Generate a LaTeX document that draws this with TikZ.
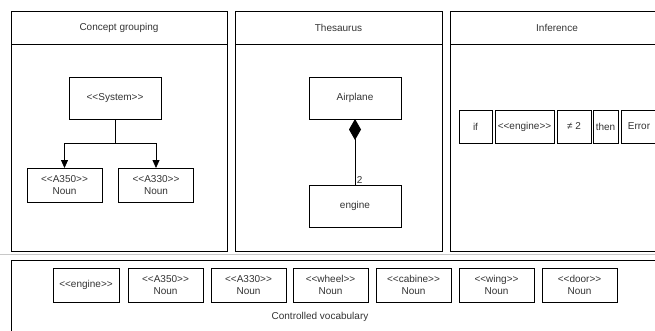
\documentclass[tikz,border=0pt]{standalone}
\usepackage{fontspec}
\newfontfamily\arialfont{Liberation Sans}
\usepackage{tikz}
\usetikzlibrary{arrows.meta,positioning}
\usepackage{xcolor}
\definecolor{vocgray}{RGB}{51,51,51}
\definecolor{vocline}{RGB}{200,200,200}
\tikzstyle{panel} = [draw=black, line width=0.8pt]
\tikzstyle{umlbox} = [rectangle, draw=black, line width=0.8pt, minimum width=75pt, minimum height=34pt, inner sep=0pt, outer sep=0pt, text centered, align=center]
\tikzstyle{bigbox} = [umlbox, minimum width=92pt, minimum height=42pt]
\tikzstyle{condbox} = [umlbox, minimum height=33pt]
\tikzstyle{arrow} = [line width=0.8pt, -{Triangle[length=8pt,width=7pt]}]

\begin{document}
\begin{tikzpicture}[x=1pt, y=-1pt, font=\arialfont\fontsize{10}{12.5}\selectfont, text=vocgray]
\useasboundingbox (0,0) rectangle (655,330);
\clip (0,0) rectangle (655,330);

% panels
\draw[panel] (11,11) rectangle (227,251);
\draw[panel] (11,44) -- (227,44);
\draw[panel] (235,11) rectangle (442,251);
\draw[panel] (235,44) -- (442,44);
\draw[panel] (450,11) rectangle (664,251);
\draw[panel] (450,44) -- (664,44);
\draw[vocline, line width=0.8pt] (0,254) -- (655,254);
\draw[panel] (11,260) rectangle (680,350);

\node (grouptitle) at (119,28) {Concept grouping};
\node (thestitle) at (338.5,28) {Thesaurus};
\node (inftitle) at (557,28) {Inference};

% Concept grouping
\node (system) [bigbox] at (115,98) {<<System>>};
\node (a350) [umlbox] at (64.5,185) {<<A350>>\\Noun};
\node (a330) [umlbox] at (156,185) {<<A330>>\\Noun};

\draw[arrow] (system.south) -- ++(0,24) -| (a350.north);
\draw[arrow] (system.south) -- ++(0,24) -| (a330.north);

% Thesaurus
\node (airplane) [bigbox] at (355,98) {Airplane};
\node (engine) [bigbox] at (355,206) {engine};

\draw[line width=0.8pt, -{Diamond[length=21pt,width=12pt]}] (engine) -- (airplane) node[pos=0, above right, inner sep=1.5pt] {2};

% Inference
\node (ifbox) [condbox, minimum width=33pt] at (475.5,126.5) {if};
\node (engcond) [condbox, minimum width=59pt, right=3pt of ifbox] {<<engine>>};
\node (neqbox) [condbox, minimum width=34pt, right=3pt of engcond] {≠ 2};
\node (thenbox) [condbox, minimum width=25pt, right=2pt of neqbox] {then};
\node (errbox) [condbox, minimum width=36pt, right=3pt of thenbox] {Error};

% Controlled vocabulary
\node (vocengine) [umlbox, minimum width=66pt] at (86,285) {<<engine>>};
\node (voca350) [umlbox, right=9pt of vocengine] {<<A350>>\\Noun};
\node (voca330) [umlbox, right=8pt of voca350] {<<A330>>\\Noun};
\node (vocwheel) [umlbox, right=7pt of voca330] {<<wheel>>\\Noun};
\node (voccabine) [umlbox, right=8pt of vocwheel] {<<cabine>>\\Noun};
\node (vocwing) [umlbox, right=8pt of voccabine] {<<wing>>\\Noun};
\node (vocdoor) [umlbox, right=8pt of vocwing] {<<door>>\\Noun};

\node (voctitle) at (320,317) {Controlled vocabulary};
\end{tikzpicture}
\end{document}
